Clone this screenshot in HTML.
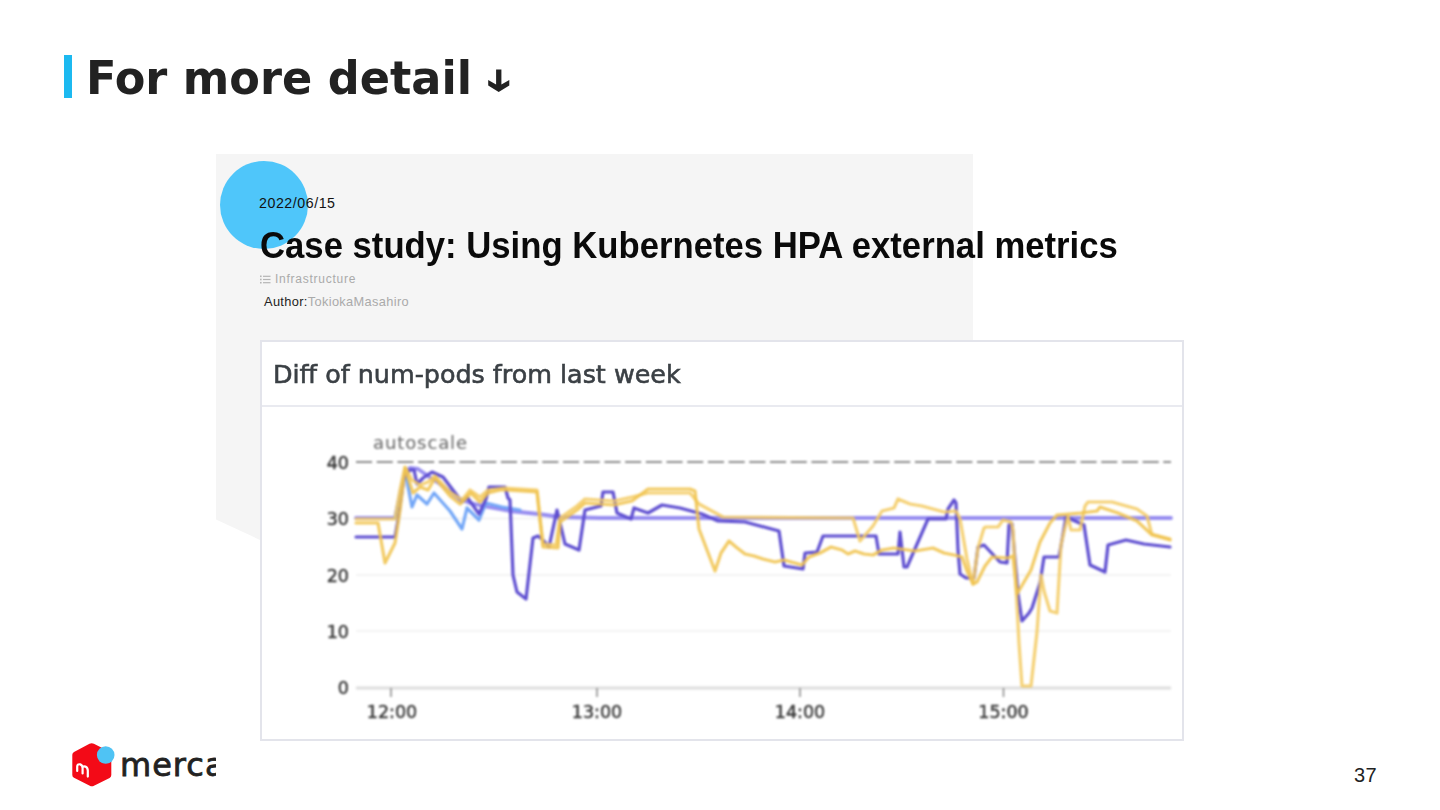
<!DOCTYPE html>
<html><head><meta charset="utf-8">
<style>
html,body{margin:0;padding:0;background:#fff;}
body{width:1440px;height:810px;position:relative;overflow:hidden;font-family:"Liberation Sans",sans-serif;}
.abs{position:absolute;}
#bar{left:64px;top:55px;width:8px;height:43px;background:#1cb9f0;}
#title{left:86px;top:50px;font-family:"DejaVu Sans",sans-serif;font-size:46px;font-weight:bold;color:#222;white-space:nowrap;line-height:56px;transform:scaleX(0.97);transform-origin:0 0;}
#pg{left:1354px;top:765px;font-size:20px;color:#222;letter-spacing:0.5px;}
.t{position:absolute;white-space:nowrap;line-height:1;}
</style></head><body>
<svg class="abs" style="left:0;top:0" width="1440" height="810" viewBox="0 0 1440 810">
  <polygon points="216,154 973,154 973,560 300,558.6 216,519.5" fill="#f5f5f5"/>
  <circle cx="264" cy="205" r="44" fill="#4fc6fa"/>
</svg>
<div id="bar" class="abs"></div>
<div id="title" class="abs">For more detail</div>
<svg class="abs" style="left:480px;top:60px" width="40" height="40" viewBox="480 60 40 40">
  <polygon points="496.1,69.5 501.4,69.5 501.4,84.6 509.3,80 509.3,85.6 498.7,92 488.2,85.6 488.2,80 496.1,84.6" fill="#222"/>
</svg>

<div class="t" style="left:259px;top:196px;font-size:14.2px;color:#111;letter-spacing:0.55px;">2022/06/15</div>
<div class="t" style="left:260px;top:226.5px;font-size:37.5px;font-weight:bold;color:#0a0a0a;transform:scaleX(0.925);transform-origin:0 0;">Case study: Using Kubernetes HPA external metrics</div>
<svg class="abs" style="left:259px;top:274px" width="13" height="11" viewBox="0 0 13 11"><g fill="#b5b5b5"><rect x="1" y="1.5" width="1.6" height="1.6"/><rect x="1" y="4.7" width="1.6" height="1.6"/><rect x="1" y="7.9" width="1.6" height="1.6"/><rect x="4" y="1.7" width="7.5" height="1.2"/><rect x="4" y="4.9" width="7.5" height="1.2"/><rect x="4" y="8.1" width="7.5" height="1.2"/></g></svg>
<div class="t" style="left:275px;top:273px;font-size:12px;color:#aaa;letter-spacing:0.75px;">Infrastructure</div>
<div class="t" style="left:264px;top:296px;font-size:12.8px;color:#222;letter-spacing:0.35px;">Author:<span style="color:#aaa">TokiokaMasahiro</span></div>

<!-- chart box -->
<div class="abs" style="left:260px;top:340px;width:920px;height:397px;border:2px solid #e3e4eb;background:#fff;filter:blur(0.6px);"></div>
<div class="abs" style="left:262px;top:405px;width:920px;height:2px;background:#e9eaf0;filter:blur(0.4px);"></div>
<div class="t" style="left:273px;top:362px;font-family:'DejaVu Sans',sans-serif;font-size:25.4px;color:#3b4045;-webkit-text-stroke:0.6px #3b4045;filter:blur(0.7px);">Diff of num-pods from last week</div>

<svg class="abs" style="left:0;top:0;filter:blur(1px)" width="1440" height="810" viewBox="0 0 1440 810">
  <g stroke="#efefef" stroke-width="1.5">
    <line x1="356" y1="518.5" x2="1171" y2="518.5"/>
    <line x1="356" y1="575" x2="1171" y2="575"/>
    <line x1="356" y1="631" x2="1171" y2="631"/>
  </g>
  <line x1="356" y1="688" x2="1171" y2="688" stroke="#dedede" stroke-width="3"/>
  <line x1="356" y1="462" x2="1171" y2="462" stroke="#8c8c8c" stroke-width="2" stroke-dasharray="16.1,4.6"/>
  <g stroke="#888" stroke-width="1.5">
    <line x1="391" y1="688" x2="391" y2="697"/>
    <line x1="597" y1="688" x2="597" y2="697"/>
    <line x1="800" y1="688" x2="800" y2="697"/>
    <line x1="1003.5" y1="688" x2="1003.5" y2="697"/>
  </g>
  <g font-family="DejaVu Sans, sans-serif" font-size="17.5" fill="#3a3a3a" stroke="#3a3a3a" stroke-width="0.5" text-anchor="end">
    <text x="349" y="469">40</text>
    <text x="349" y="525">30</text>
    <text x="349" y="582">20</text>
    <text x="349" y="638">10</text>
    <text x="349" y="694">0</text>
  </g>
  <g font-family="DejaVu Sans, sans-serif" font-size="17.5" fill="#3a3a3a" stroke="#3a3a3a" stroke-width="0.5" text-anchor="middle">
    <text x="392" y="718">12:00</text>
    <text x="597" y="718">13:00</text>
    <text x="800" y="718">14:00</text>
    <text x="1003.5" y="718">15:00</text>
  </g>
  <text x="373" y="449" font-family="DejaVu Sans, sans-serif" font-size="18" fill="#666" letter-spacing="0.9">autoscale</text>
<polyline points="356,518 395,518 400,495 405,472 410,468 418,469 428,476 440,484 458,498 470,503 488,507 510,511 538,514 560,517 600,518 1171,518" fill="none" stroke="#968cf0" stroke-width="3.8" stroke-linejoin="round" stroke-linecap="round"/>
<polyline points="395,518 400,500 405,472 407,481 412,507 417,495 427,504 434,493 450,511 462,529 467,508 479,520 486,503 502,507 520,510" fill="none" stroke="#72a6f7" stroke-width="3.2" stroke-linejoin="round" stroke-linecap="round"/>
<polyline points="356,537 395,537 398,520 404,478 410,470 414,470 417,484 423,478 432,472 443,477 462,502 467,497 479,514 486,499 489,487 505,487 508,498 510,500 513,575 517,592 526,599 533,538 538,536 543,540 549,547 557,510 565,544 579,550 585,510 601,506 603,492 613,492 617,513 631,519 634,508 648,513 662,505 680,508 702,514 718,521 745,522 779,531 784,566 803,569 805,553 817,552 823,536 876,536 879,554 898,554 900,532 904,567 907,567 928,519 946,519 948,509 954,500 956,503 958,550 960,574 966,578 974,578 978,547 984,545 1000,562 1007,563 1009,525 1012,524 1018,594 1022,621 1029,613 1032,608 1040,583 1044,557 1059,557 1066,517 1084,525 1090,565 1105,572 1108,545 1126,540 1144,544 1170,547" fill="none" stroke="#5d4dd0" stroke-width="3.2" stroke-linejoin="round" stroke-linecap="round"/>
<polyline points="356,519 395,519 400,490 405,467 412,480 420,485 428,482 435,476 450,492 462,500 470,490 480,497 488,490 505,488 537,490 540,518 543,544 556,545 560,518 577,506 585,499 614,501 632,497 648,493 690,493 699,504 723,517 853,518 860,541 873,526 882,511 894,508 898,499 910,504 922,506 944,512 956,511 960,519 967,559 973,584 978,548 984,528 986,527 998,527 1003,520 1011,522 1013,530 1019,643 1022,686 1031,686 1037,632 1041,575 1044,591 1050,611 1057,613 1061,545 1064,532 1068,516 1071,530 1080,530 1085,506 1088,502 1112,502 1137,509 1147,516 1152,535 1170,540" fill="none" stroke="#f4cb62" stroke-width="3.2" stroke-opacity="0.88" stroke-linejoin="round" stroke-linecap="round"/>
<polyline points="356,523 378,523 385,563 395,543 400,510 405,468 413,493 420,487 428,490 435,478 450,496 460,504 471,493 480,502 488,493 500,490 506,490 537,492 540,520 543,547 558,548 560,522 577,510 585,503 614,505 632,501 648,489 690,489 695,491 699,529 715,571 721,553 729,541 736,547 745,554 754,556 763,559 775,562 784,560 802,565 809,557 820,553 831,547 842,550 848,554 855,551 864,554 873,555 882,550 894,548 915,551 933,548 944,553 954,555 962,557 967,571 973,584 977,582 985,566 992,557 1008,558 1013,556 1017,594 1031,570 1040,542 1050,523 1057,515 1081,513 1097,511 1100,507 1118,513 1137,521 1151,534 1170,539" fill="none" stroke="#f0c34c" stroke-width="3.2" stroke-opacity="0.88" stroke-linejoin="round" stroke-linecap="round"/>
</svg>


<svg class="abs" style="left:60px;top:735px" width="65" height="60" viewBox="60 735 65 60">
  <path d="M89.5 743.8 Q91.7 742.6 93.9 743.8 L109.6 751.8 Q111.3 752.8 111.3 754.8 L111.3 775 Q111.3 777 109.6 777.9 L94 785.8 Q91.9 786.9 89.8 785.8 L74 777.8 Q72.3 776.9 72.3 775 L72.3 754.8 Q72.3 752.8 74 751.9 Z" fill="#f30a17"/>
  <circle cx="105.7" cy="755" r="8.8" fill="#4fc3f4"/>
  <path d="M77.2 771 L77.2 766.8 Q77.2 763.6 80.2 764.4 Q82.6 765.2 82.6 768.2 L82.6 773.4 M82.6 768.2 Q82.6 765.6 85.4 766.6 Q87.8 767.6 87.8 770.8 L87.8 776.6" fill="none" stroke="#fff" stroke-width="2.2" stroke-linecap="round" stroke-linejoin="round"/>
</svg>
<div class="abs" style="left:120px;top:745px;width:96px;height:40px;overflow:hidden;">
  <div class="t" style="left:0;top:4px;font-family:'DejaVu Sans',sans-serif;font-size:32px;color:#222;letter-spacing:1px;-webkit-text-stroke:0.8px #222;">mercari</div>
</div>
<div id="pg" class="t">37</div>
</body></html>
